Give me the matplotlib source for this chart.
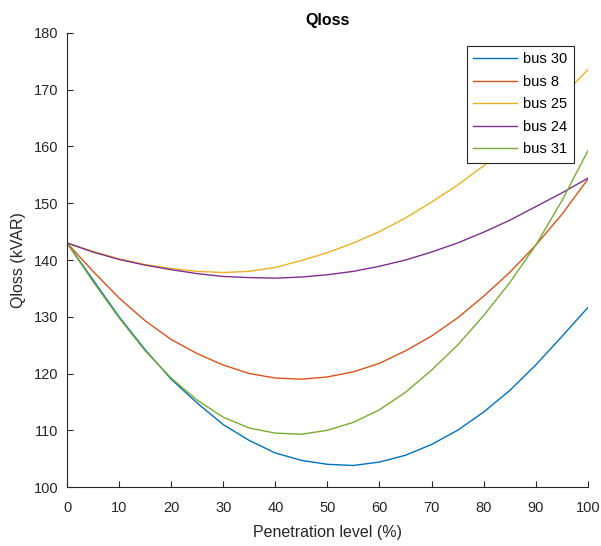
import matplotlib.pyplot as plt

plt.rcParams['font.family'] = ['Liberation Sans', 'DejaVu Sans']

# penetration level (%) and reactive losses per bus
level = [0, 5, 10, 15, 20, 25, 30, 35, 40, 45, 50, 55, 60, 65, 70, 75, 80, 85, 90, 95, 100]
bus30 = [143, 136.5, 130, 124.2, 119, 114.8, 111, 108.2, 106, 104.7, 104, 103.8, 104.4, 105.6,
         107.5, 110, 113.2, 117, 121.5, 126.5, 131.6]
bus8 = [143, 138, 133.3, 129.3, 126, 123.5, 121.5, 120, 119.2, 119, 119.4, 120.3, 121.8, 124,
        126.6, 129.8, 133.6, 137.8, 142.6, 148, 154.2]
bus25 = [143, 141.5, 140.2, 139.2, 138.5, 138, 137.8, 138, 138.7, 139.9, 141.3, 143, 145, 147.4,
         150.2, 153.2, 156.6, 160.4, 164.4, 168.8, 173.5]
bus24 = [143, 141.4, 140.1, 139.1, 138.3, 137.6, 137.1, 136.9, 136.8, 137, 137.4, 138, 138.9, 140,
         141.4, 143, 144.9, 147, 149.4, 151.8, 154.4]
bus31 = [143, 136.2, 129.8, 124, 119.2, 115.3, 112.3, 110.4, 109.5, 109.3, 110, 111.4, 113.6, 116.7,
         120.6, 125, 130.2, 136, 142.6, 150.4, 159.2]

series = [("bus 30", bus30, "#0072BD"), ("bus 8", bus8, "#D95319"),
          ("bus 25", bus25, "#EDB120"), ("bus 24", bus24, "#7E2F8E"),
          ("bus 31", bus31, "#77AC30")]

fig = plt.figure(figsize=(6.01, 5.46), dpi=100)
ax = fig.add_axes([0.1115, 0.108, 0.8665, 0.8316])

for name, vals, col in series:
    ax.plot(level, vals, color=col, lw=1.0, label=name)

ax.set_xlim(0, 100)
ax.set_ylim(100, 180)
ax.set_xticks(range(0, 101, 10))
ax.set_yticks(range(100, 181, 10))
for s in ['top', 'right']:
    ax.spines[s].set_visible(False)
for s in ['left', 'bottom']:
    ax.spines[s].set_color('#262626')
    ax.spines[s].set_linewidth(0.8)
ax.tick_params(direction='in', length=4, width=0.8, colors='#262626', labelsize=10.5)
ax.tick_params(axis='x', pad=10)
ax.tick_params(axis='y', pad=6)

ax.set_xlabel("Penetration level (%)", fontsize=11.5, color='#262626', labelpad=7)
ax.set_ylabel("Qloss (kVAR)", fontsize=11.5, color='#262626', labelpad=6)
ax.set_title("Qloss", fontsize=11.5, fontweight='bold', pad=6)

leg = ax.legend(loc='upper right', bbox_to_anchor=(0.973, 0.972), fontsize=10.5, fancybox=False,
                framealpha=1, edgecolor='#262626', handlelength=3.0, borderaxespad=0,
                labelspacing=0.58, handletextpad=0.4, borderpad=0.45)
leg.get_frame().set_linewidth(0.8)

fig.savefig("out.png", dpi=100)
